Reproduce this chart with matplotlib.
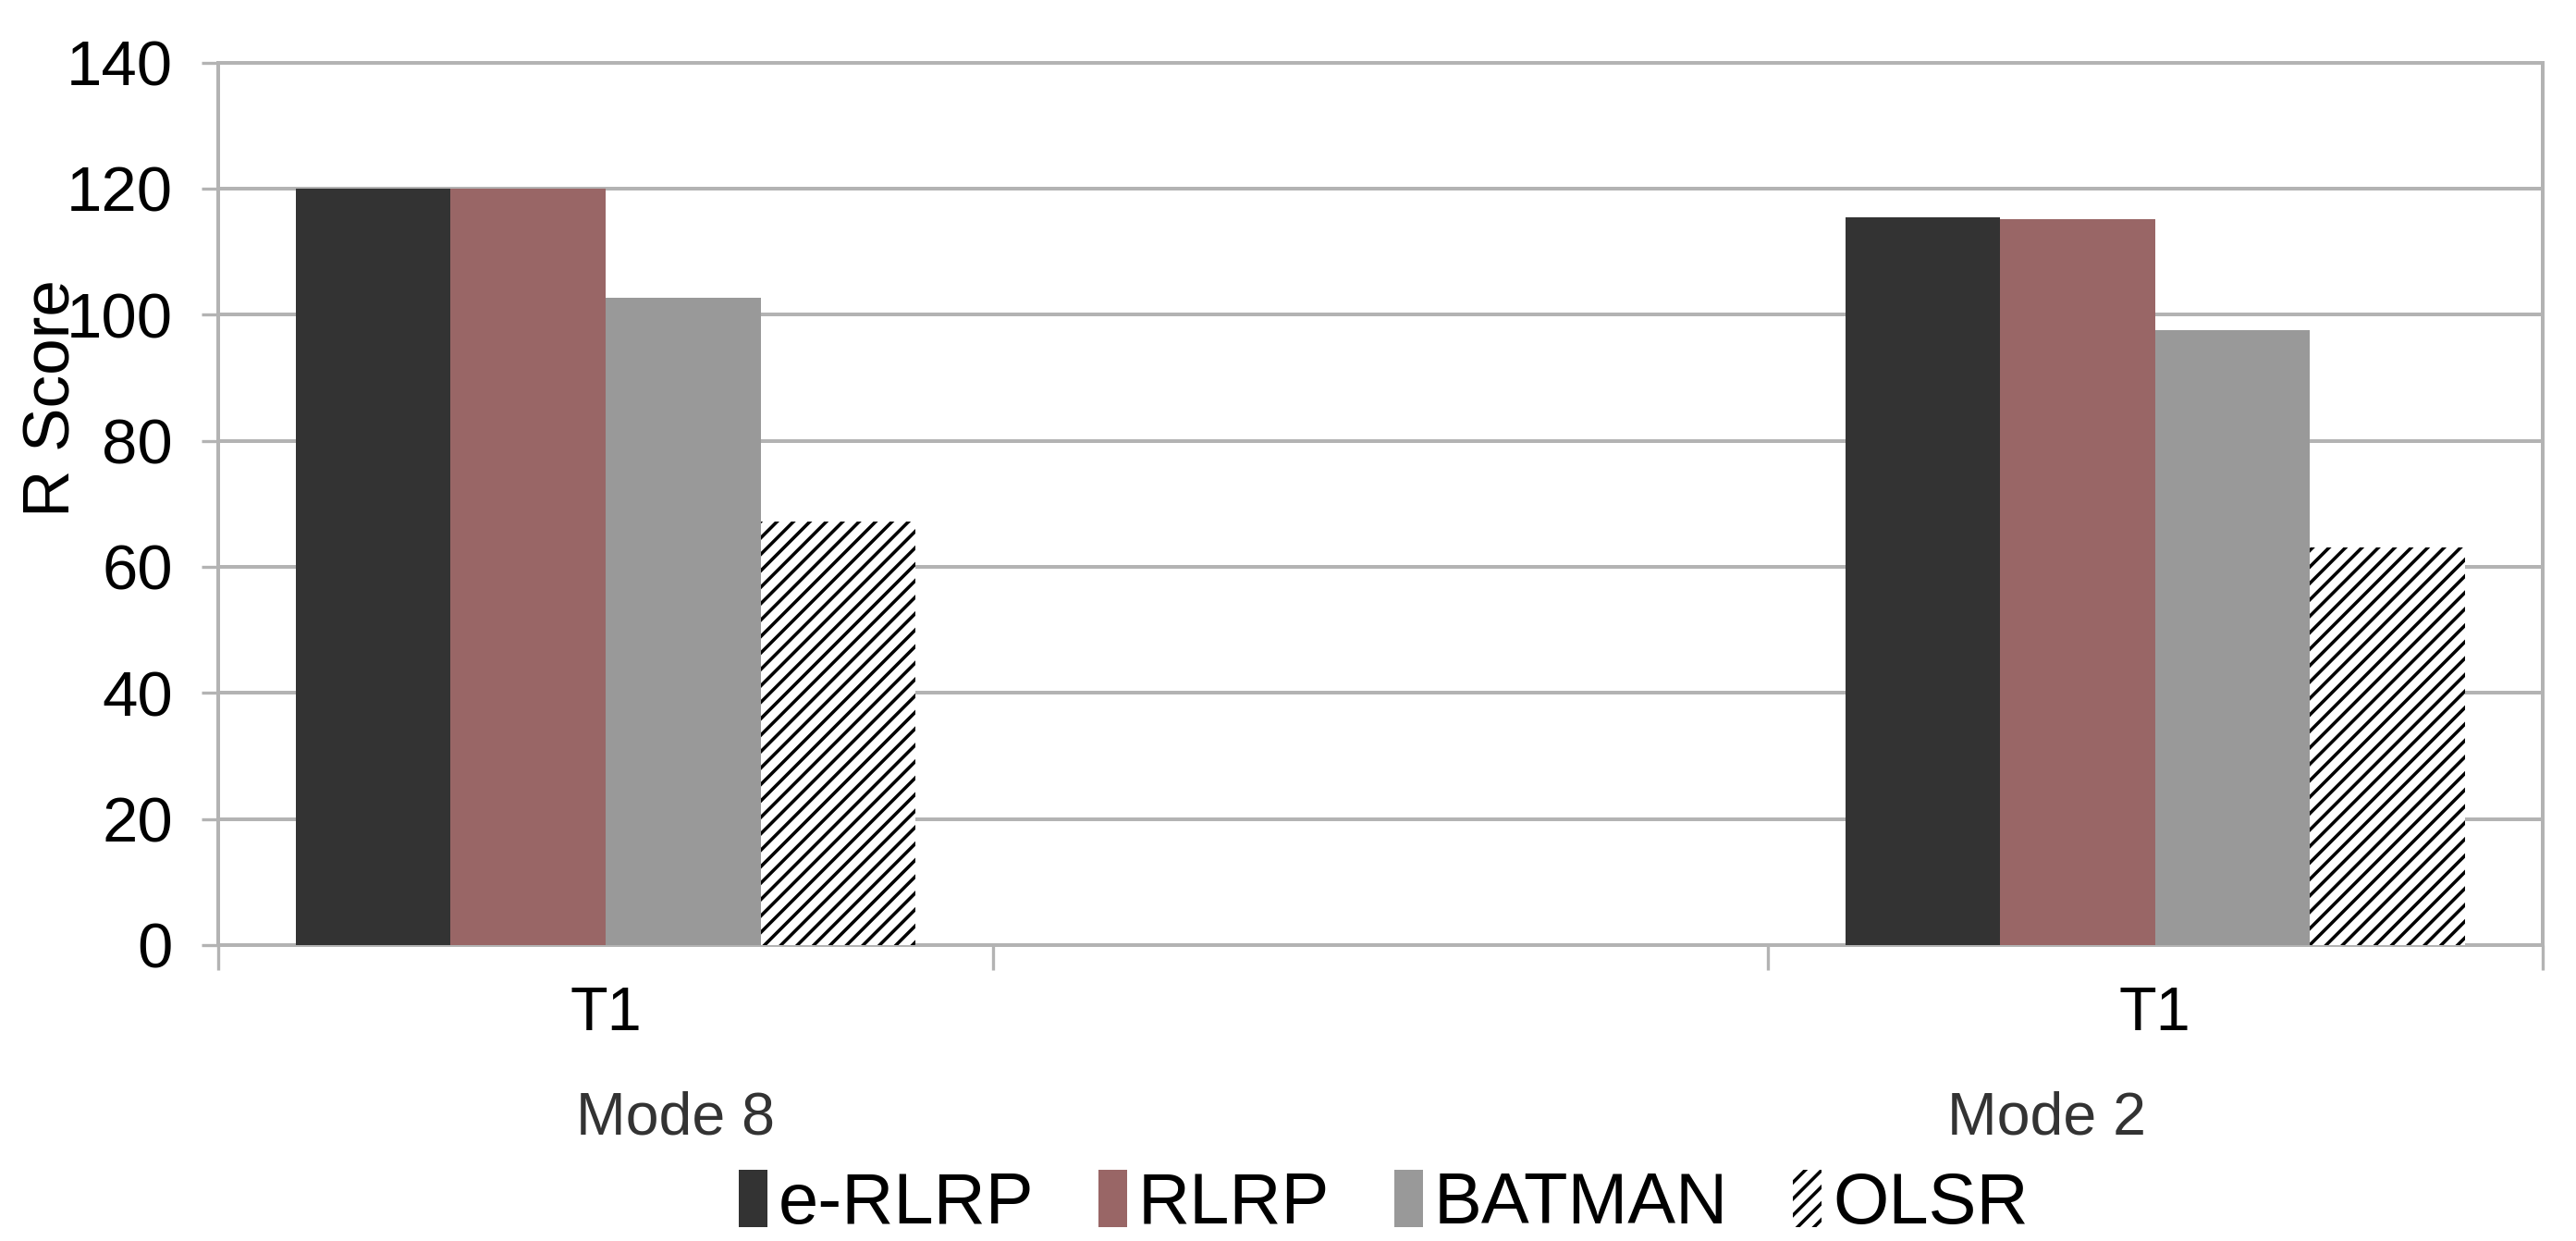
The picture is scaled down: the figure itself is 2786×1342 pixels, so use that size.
import matplotlib.pyplot as plt
import numpy as np

# data
categories = ['T1', '', 'T1']
groups = ['Mode 8', 'Mode 2']
series = ['e-RLRP', 'RLRP', 'BATMAN', 'OLSR']
e_rlrp = [120.0, np.nan, 115.4]
rlrp = [120.0, np.nan, 115.2]
batman = [102.6, np.nan, 97.5]
olsr = [67.2, np.nan, 63.1]

colors = ['#333333', '#996666', '#999999', 'white']
hatches = [None, None, None, '///']
grid_c = '#b3b3b3'

plt.rcParams['font.family'] = ['Liberation Sans', 'DejaVu Sans']
plt.rcParams['hatch.linewidth'] = 1.6
plt.rcParams['hatch.color'] = 'black'

fig = plt.figure(figsize=(2786 / 160, 1342 / 160), dpi=160)
ax = fig.add_axes([0.0847, 0.2385, 0.987 - 0.0847, 0.9497 - 0.2385])

x = np.arange(len(categories))
w = 0.2
vals = [e_rlrp, rlrp, batman, olsr]
for i, (name, v) in enumerate(zip(series, vals)):
    off = (i - 1.5) * w
    if hatches[i]:
        ax.bar(x + off, v, w, color='white', edgecolor='black', linewidth=0,
               hatch=hatches[i], label=name, zorder=3)
    else:
        ax.bar(x + off, v, w, color=colors[i], edgecolor=colors[i], linewidth=0,
               label=name, zorder=3)

ax.set_xlim(-0.5, len(categories) - 0.5)
ax.set_ylim(0, 140)
ax.set_yticks(np.arange(0, 141, 20))
ax.tick_params(axis='y', labelsize=31, length=8, width=1.5, color=grid_c, pad=14)
ax.grid(axis='y', color=grid_c, linewidth=1.8, zorder=0)

# category boundaries as major ticks, labels on minor ticks
ax.set_xticks(np.arange(-0.5, len(categories), 1.0))
ax.set_xticklabels([])
ax.tick_params(axis='x', which='major', length=12, width=1.5, color=grid_c)
ax.set_xticks(x, minor=True)
ax.set_xticklabels(categories, minor=True)
ax.tick_params(axis='x', which='minor', length=0, labelsize=30, pad=20)

for s in ax.spines.values():
    s.set_color(grid_c)
    s.set_linewidth(1.8)

ax.set_ylabel('R Score', fontsize=32)
ax.yaxis.set_label_coords(-0.058, 0.62)

# group labels
group_x = [0.09, 1.86]
for gx, g in zip(group_x, groups):
    ax.text(gx, -0.196, g, transform=ax.get_xaxis_transform(), ha='center',
            va='center', fontsize=29, color='#333333')

ax.legend(loc='center', bbox_to_anchor=(0.537, 0.03), bbox_transform=fig.transFigure,
          ncol=4, frameon=False, fontsize=35, handlelength=0.4, handleheight=0.85,
          handletextpad=0.15, columnspacing=0.9, borderaxespad=0, borderpad=0)

fig.savefig('out.png', dpi=160)
